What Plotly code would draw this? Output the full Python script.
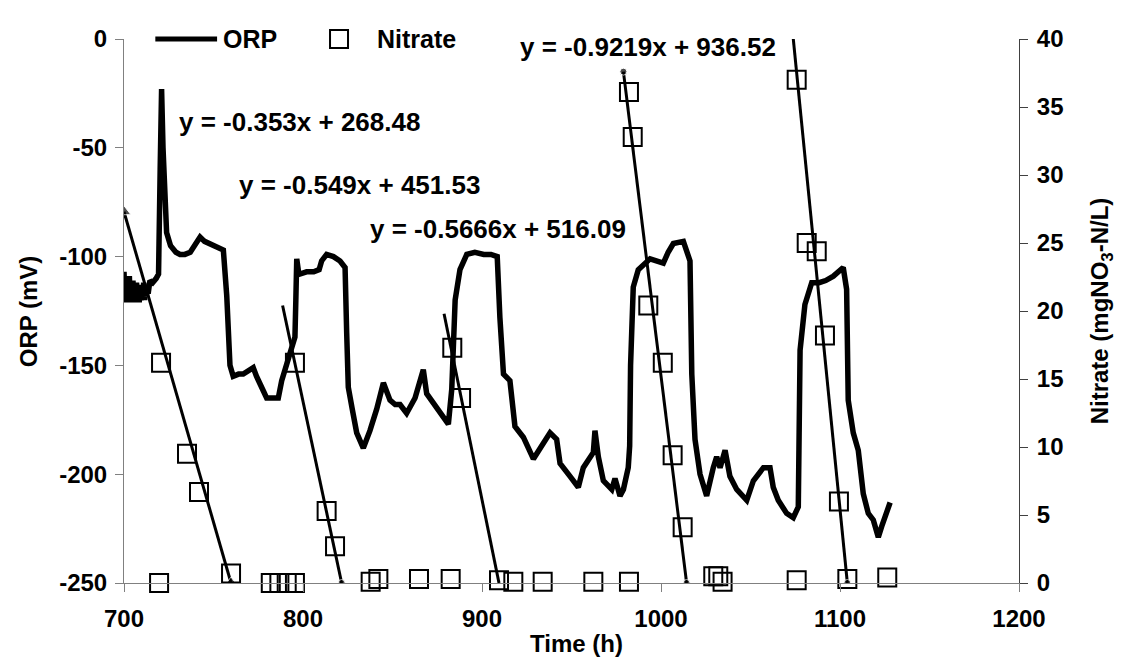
"""ORP and nitrate versus time, with nitrate regression lines per cycle."""
import plotly.graph_objects as go

FONT = "Liberation Sans, Arial, sans-serif"

# ORP probe trace (h, mV)
ORP_TIME = [
    700.0, 700.5, 701.0, 701.5, 702.0, 702.5, 703.0, 703.5, 704.0, 704.5, 705.0, 705.5,
    706.0, 706.5, 707.0, 707.5, 708.0, 708.5, 709.0, 709.5, 710.0, 710.5, 711.0, 711.5,
    712.0, 712.5, 713.0, 713.5, 714.5,
    716.0, 718.0, 719.3, 720.2, 721.0, 721.8, 722.5, 723.8, 726.0, 729.0, 731.3, 734.0,
    737.0, 740.0, 742.5, 745.0, 748.0, 750.0, 753.0, 755.5, 757.4, 758.3, 759.2, 761.0,
    764.0, 766.6, 769.0, 772.2, 774.0, 776.0, 778.0, 779.7, 783.0, 786.2, 788.1, 790.5,
    792.7, 795.5, 796.0, 796.5, 797.5, 798.3, 802.0, 806.0, 809.0, 810.4, 813.2, 817.0,
    820.7, 823.5, 824.4, 825.3, 827.5, 830.0, 833.7, 837.4, 841.2, 844.9, 848.6, 851.5,
    854.2, 857.9, 862.6, 867.2, 869.1, 872.8, 876.5, 881.2, 883.1, 884.0, 885.0, 887.7,
    891.5, 896.0, 901.0, 905.0, 908.5, 910.0, 912.0, 915.6, 918.4, 923.1, 928.7, 933.3,
    938.0, 941.7, 943.6, 949.2, 953.8, 956.6, 962.2, 963.1, 965.0, 967.8, 972.5, 974.3,
    977.1, 979.0, 981.7, 982.5, 983.0, 984.5, 987.3, 993.9, 1001.3, 1004.0, 1006.9, 1012.5,
    1016.2, 1017.2, 1018.0, 1019.0, 1021.8, 1025.5, 1029.2, 1031.1, 1033.0, 1035.8, 1038.5, 1042.3,
    1047.9, 1051.6, 1057.2, 1060.9, 1062.7, 1065.5, 1070.2, 1073.9, 1076.7, 1077.2, 1077.7, 1080.4,
    1084.2, 1088.3, 1092.0, 1096.3, 1101.8, 1103.7, 1104.6, 1107.4, 1110.2, 1113.0, 1115.8, 1118.6,
    1121.4, 1123.3, 1126.0, 1128.0,
]
ORP_MV = [
    -107, -119, -110, -121, -112, -118, -109, -121, -113, -120, -111, -119,
    -114, -121, -112, -119, -115, -121, -113, -120, -116, -119, -112, -120,
    -115, -118, -113, -117, -111,
    -112, -110, -108, -60, -23, -50, -71, -89, -95, -98, -99, -99,
    -98, -94, -91, -93, -94, -95, -96, -97, -118, -135, -150, -155,
    -154, -154, -153, -151, -155, -158, -162, -165, -165, -165, -157, -150,
    -143, -137, -120, -101, -107, -108, -107, -107, -106, -102, -99, -100,
    -102, -105, -135, -160, -170, -181, -188, -180, -170, -158, -166, -168,
    -168, -172, -165, -152, -163, -167, -171, -177, -161, -140, -120, -106,
    -99, -98, -99, -99, -100, -128, -154, -157, -178, -183, -193, -187,
    -181, -184, -195, -201, -206, -197, -190, -180, -192, -203, -207, -202,
    -210, -207, -197, -187, -150, -114, -106, -101, -103, -98, -94, -93,
    -102, -154, -175, -184, -200, -210, -197, -192, -197, -189, -201, -207,
    -212, -203, -197, -197, -206, -212, -218, -220, -215, -187, -143, -122,
    -112, -112, -111, -109, -105, -115, -166, -181, -189, -209, -218, -221,
    -229, -224, -217, -213,
]

# Nitrate samples (h, mgNO3-N/L)
NITRATE_TIME = [
    719.6, 720.7, 735.2, 741.9, 759.8, 782.0, 786.8, 790.9, 795.5, 795.5,
    813.2, 817.9, 837.8, 842.1, 864.8, 882.5, 883.4, 888.3, 909.5, 917.5,
    933.9, 962.2, 982.1, 982.1, 984.2, 992.9, 1001.0, 1006.5, 1012.1, 1029.2,
    1032.0, 1034.4, 1075.8, 1075.8, 1081.4, 1087.0, 1091.6, 1099.4, 1104.1, 1126.4,
]
NITRATE_MG = [
    0.0, 16.2, 9.5, 6.7, 0.7, 0.0, 0.0, 0.0, 0.0, 16.2,
    5.3, 2.7, 0.1, 0.3, 0.3, 0.3, 17.3, 13.6, 0.2, 0.1,
    0.1, 0.1, 0.1, 36.1, 32.8, 20.4, 16.2, 9.4, 4.1, 0.5,
    0.5, 0.1, 0.2, 37.0, 25.0, 24.4, 18.2, 6.0, 0.3, 0.4,
]

# regression lines as drawn for each denitrification cycle
TREND_TIME = [[700.0, 759.8], [788.6, 821.6], [878.8, 909.5], [979.0, 1014.3], [1073.3, 1104.1]]
TREND_NITRATE = [[27.3, 0.0], [20.4, 0.0], [19.8, 0.0], [37.6, 0.0], [40.8, 0.0]]
TREND_SYMBOLS = [
    ["triangle-up", "triangle-up"],
    ["circle", "circle"],
    ["circle", "circle"],
    ["circle", "circle"],
    ["circle", "circle"],
]
TREND_MARKER_SIZES = [[12, 12], [0, 7], [0, 0], [7, 7], [0, 7]]
TREND_LABELS = [
    "y = -0.353x + 268.48",
    "y = -0.549x + 451.53",
    "y = -0.5666x + 516.09",
    "y = -0.9219x + 936.52",
    "y = -1.095x +1210.4",
]
TREND_LABEL_TIME = [729.4, 763.0, 836.5, 920.2, 1076.7]
TREND_LABEL_NITRATE = [33.9, 29.3, 26.0, 39.4, 41.2]

X_TICKS = [700, 800, 900, 1000, 1100, 1200]
ORP_TICKS = [0, -50, -100, -150, -200, -250]
NITRATE_TICKS = [0, 5, 10, 15, 20, 25, 30, 35, 40]

# the page body has an 8px margin, so the figure is shrunk and shifted to fit
WIDTH, HEIGHT = 1114, 652


def bold(size):
    return dict(family=FONT, size=size, color="black", weight="bold")


fig = go.Figure()

fig.add_trace(
    go.Scatter(
        x=ORP_TIME,
        y=ORP_MV,
        mode="lines",
        line=dict(color="black", width=5.5),
        name="ORP",
        yaxis="y",
    )
)

for times, values, symbols, sizes in zip(TREND_TIME, TREND_NITRATE, TREND_SYMBOLS, TREND_MARKER_SIZES):
    fig.add_trace(
        go.Scatter(
            x=times,
            y=values,
            mode="lines+markers",
            line=dict(color="black", width=3),
            marker=dict(symbol=symbols, size=sizes, color="black"),
            yaxis="y2",
            showlegend=False,
        )
    )

fig.add_trace(
    go.Scatter(
        x=NITRATE_TIME,
        y=NITRATE_MG,
        mode="markers",
        marker=dict(symbol="square-open", size=18, color="black", line=dict(width=2, color="black")),
        name="Nitrate",
        yaxis="y2",
        cliponaxis=False,
    )
)

annotations = [
    dict(
        x=tx, y=ty, xref="x", yref="y2", text=label, showarrow=False,
        xanchor="left", yanchor="middle", font=bold(26),
    )
    for label, tx, ty in zip(TREND_LABELS, TREND_LABEL_TIME, TREND_LABEL_NITRATE)
]
annotations += [
    dict(x=0.506, y=-0.112, xref="paper", yref="paper", text="Time (h)", showarrow=False,
         xanchor="center", yanchor="middle", font=bold(24)),
    dict(x=-0.107, y=0.5, xref="paper", yref="paper", text="ORP (mV)", showarrow=False,
         textangle=-90, xanchor="center", yanchor="middle", font=bold(24)),
    dict(x=1.092, y=0.5, xref="paper", yref="paper", text="Nitrate (mgNO<sub>3</sub>-N/L)",
         showarrow=False, textangle=-90, xanchor="center", yanchor="middle", font=bold(24)),
    # hand-made legend, Excel style
    dict(x=0.108, y=1.0, xref="paper", yref="paper", text="ORP", showarrow=False,
         xanchor="left", yanchor="middle", font=bold(25)),
    dict(x=0.280, y=1.0, xref="paper", yref="paper", text="Nitrate", showarrow=False,
         xanchor="left", yanchor="middle", font=bold(25)),
]

shapes = [
    dict(type="line", xref="paper", yref="paper", x0=0.035, x1=0.104, y0=1.0, y1=1.0,
         line=dict(color="black", width=5)),
    dict(type="rect", xref="paper", yref="paper", x0=0.2302, x1=0.2503, y0=0.9835, y1=1.0165,
         line=dict(color="black", width=2)),
]

fig.update_layout(
    width=WIDTH,
    height=HEIGHT,
    margin=dict(l=116, r=103, t=31, b=77),
    paper_bgcolor="white",
    plot_bgcolor="white",
    showlegend=False,
    annotations=annotations,
    shapes=shapes,
    xaxis=dict(
        range=[700, 1200], tickvals=X_TICKS, ticktext=[str(v) for v in X_TICKS],
        showgrid=False, zeroline=False,
        showline=True, linecolor="#808080", linewidth=1,
        ticks="outside", ticklen=8, tickcolor="#808080", tickfont=bold(24),
        ticklabelstandoff=6,
    ),
    yaxis=dict(
        range=[-250, 0], tickvals=ORP_TICKS, ticktext=[str(v) for v in ORP_TICKS],
        showgrid=False, zeroline=False,
        showline=True, linecolor="#808080", linewidth=1,
        ticks="outside", ticklen=8, tickcolor="#808080", tickfont=bold(24),
        ticklabelstandoff=3,
    ),
    yaxis2=dict(
        range=[0, 40], tickvals=NITRATE_TICKS, ticktext=[str(v) for v in NITRATE_TICKS],
        overlaying="y", side="right",
        showgrid=False, zeroline=False,
        showline=True, linecolor="#404040", linewidth=1,
        ticks="outside", ticklen=8, tickcolor="#404040", tickfont=bold(24),
        ticklabelstandoff=4,
    ),
)

fig.write_html("out.html")
